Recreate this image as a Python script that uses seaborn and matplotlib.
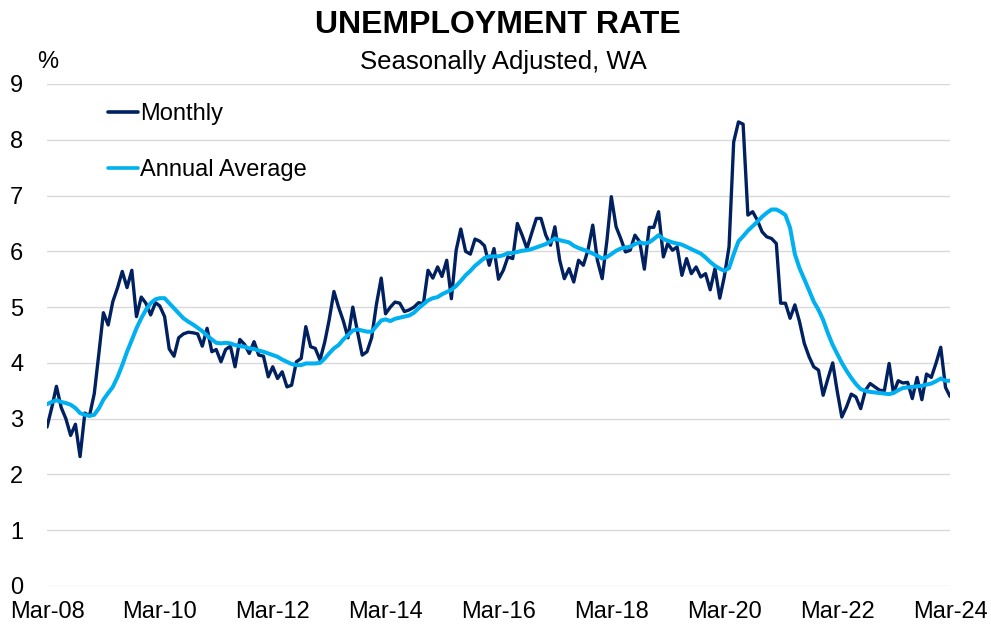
import numpy as np
import pandas as pd
import matplotlib
matplotlib.use("Agg")
import matplotlib.pyplot as plt
import matplotlib.dates as mdates
from matplotlib.lines import Line2D
import seaborn as sns

# ---- data ----
start_month = "2008-03-01"

monthly = [
    2.85, 3.20, 3.58, 3.20, 3.00, 2.70, 2.90, 2.32, 3.10, 3.05, 3.45, 4.20,
    4.90, 4.68, 5.10, 5.35, 5.64, 5.35, 5.66, 4.83, 5.18, 5.07, 4.86, 5.08,
    5.02, 4.83, 4.25, 4.12, 4.45, 4.52, 4.55, 4.54, 4.52, 4.30, 4.62, 4.20,
    4.24, 4.02, 4.24, 4.30, 3.93, 4.42, 4.33, 4.17, 4.38, 4.14, 4.12, 3.75,
    3.93, 3.72, 3.84, 3.57, 3.60, 4.02, 4.08, 4.65, 4.29, 4.26, 4.05, 4.38,
    4.77, 5.28, 5.00, 4.75, 4.45, 5.00, 4.55, 4.14, 4.20, 4.45, 5.05, 5.52,
    4.88, 5.00, 5.09, 5.07, 4.92, 4.95, 5.00, 5.08, 5.06, 5.66, 5.52, 5.72,
    5.55, 5.84, 5.15, 6.02, 6.40, 6.00, 5.95, 6.22, 6.18, 6.10, 5.75, 6.05,
    5.50, 5.66, 5.90, 5.87, 6.50, 6.29, 6.05, 6.32, 6.59, 6.59, 6.29, 6.11,
    6.44, 5.84, 5.51, 5.69, 5.45, 5.84, 5.75, 6.02, 6.47, 5.84, 5.51, 6.20,
    6.98, 6.44, 6.23, 5.99, 6.02, 6.29, 6.17, 5.68, 6.43, 6.43, 6.71, 5.90,
    6.14, 6.02, 6.08, 5.57, 5.87, 5.60, 5.72, 5.54, 5.60, 5.31, 5.69, 5.16,
    5.54, 6.08, 7.96, 8.32, 8.28, 6.65, 6.71, 6.56, 6.35, 6.26, 6.23, 6.14,
    5.07, 5.07, 4.80, 5.04, 4.74, 4.35, 4.11, 3.93, 3.87, 3.42, 3.72, 4.00,
    3.51, 3.03, 3.21, 3.44, 3.39, 3.18, 3.51, 3.63, 3.57, 3.51, 3.50, 3.99,
    3.46, 3.68, 3.64, 3.65, 3.36, 3.74, 3.34, 3.80, 3.74, 3.99, 4.28, 3.56,
    3.40,
]

annual_average = [
    3.26, 3.30, 3.33, 3.30, 3.28, 3.25, 3.19, 3.10, 3.07, 3.05, 3.07, 3.19,
    3.34, 3.46, 3.57, 3.75, 3.96, 4.20, 4.41, 4.62, 4.80, 4.95, 5.07, 5.14,
    5.16, 5.16, 5.07, 4.98, 4.89, 4.80, 4.74, 4.69, 4.63, 4.57, 4.49, 4.42,
    4.36, 4.35, 4.36, 4.35, 4.32, 4.30, 4.29, 4.26, 4.25, 4.22, 4.20, 4.17,
    4.14, 4.11, 4.06, 4.02, 3.98, 3.96, 3.96, 3.99, 3.99, 3.99, 4.00, 4.08,
    4.17, 4.26, 4.32, 4.42, 4.50, 4.58, 4.60, 4.58, 4.56, 4.56, 4.66, 4.76,
    4.78, 4.75, 4.79, 4.81, 4.83, 4.85, 4.90, 4.98, 5.05, 5.12, 5.16, 5.18,
    5.23, 5.27, 5.31, 5.38, 5.47, 5.57, 5.65, 5.74, 5.81, 5.88, 5.91, 5.91,
    5.91, 5.93, 5.97, 5.97, 5.99, 6.01, 6.02, 6.04, 6.07, 6.10, 6.13, 6.18,
    6.23, 6.20, 6.18, 6.16, 6.10, 6.06, 6.03, 6.00, 5.96, 5.92, 5.87, 5.90,
    5.95, 6.01, 6.05, 6.07, 6.08, 6.13, 6.16, 6.14, 6.16, 6.22, 6.29, 6.22,
    6.19, 6.16, 6.14, 6.12, 6.08, 6.04, 6.00, 5.96, 5.89, 5.81, 5.74, 5.69,
    5.65, 5.70, 5.95, 6.18, 6.27, 6.37, 6.45, 6.53, 6.62, 6.69, 6.75, 6.75,
    6.71, 6.65, 6.42, 5.95, 5.70, 5.50, 5.30, 5.10, 4.95, 4.77, 4.53, 4.32,
    4.17, 4.00, 3.86, 3.73, 3.62, 3.53, 3.50, 3.48, 3.47, 3.46, 3.45, 3.44,
    3.46, 3.51, 3.55, 3.56, 3.57, 3.58, 3.59, 3.61, 3.63, 3.67, 3.72, 3.68,
    3.68,
]

series_names = ["Monthly", "Annual Average"]
series_colors = ["#002060", "#00B0F0"]
y_ticks = [0, 1, 2, 3, 4, 5, 6, 7, 8, 9]
title = "UNEMPLOYMENT RATE"
subtitle = "Seasonally Adjusted, WA"
unit_label = "%"

# ---- build table ----
dates = pd.date_range(start_month, periods=len(monthly), freq="MS")
df = pd.concat([
    pd.DataFrame({"date": dates, "value": monthly, "series": series_names[0]}),
    pd.DataFrame({"date": dates, "value": annual_average, "series": series_names[1]}),
])

sns.set_theme(style="white")
plt.rcParams["font.family"] = ["Liberation Sans", "DejaVu Sans"]

fig = plt.figure(figsize=(9.91, 6.26), dpi=100)
ax = fig.add_axes([47 / 991, 40 / 626, 903 / 991, 502 / 626])

palette = dict(zip(series_names, series_colors))
sns.lineplot(data=df, x="date", y="value", hue="series", palette=palette,
             hue_order=series_names, ax=ax, legend=False)
lines = ax.get_lines()
lines[0].set_linewidth(2.4)
lines[1].set_linewidth(2.9)
lines[0].set_zorder(3)
lines[1].set_zorder(4)

ax.set_xlim(dates[0], dates[-1])
ax.set_ylim(0, 9)
ax.set_yticks(y_ticks)
ax.yaxis.grid(True, color="#D9D9D9", linewidth=1.0)
ax.xaxis.grid(False)
ax.set_axisbelow(True)
for s in ax.spines.values():
    s.set_visible(False)

tick_dates = pd.date_range(start_month, dates[-1], freq="24MS")
ax.set_xticks(tick_dates)
ax.xaxis.set_major_formatter(mdates.DateFormatter("%b-%y"))
ax.tick_params(axis="both", length=0, labelsize=17, colors="black")
ax.tick_params(axis="y", pad=17)
ax.tick_params(axis="x", pad=11)
ax.set_xlabel("")
ax.set_ylabel("")

fig.text(0.5025, 1 - 25 / 626, title, ha="center", va="center",
         fontsize=23, fontweight="bold", color="black")
fig.text(0.5075, 1 - 62 / 626, subtitle, ha="center", va="center",
         fontsize=18.5, color="black")
fig.text(48 / 991, 1 - 62 / 626, unit_label, ha="center", va="center",
         fontsize=17, color="black")

handles = [Line2D([0], [0], color=c, lw=2.6) for c in series_colors]
leg = ax.legend(handles, series_names, loc="upper left",
                bbox_to_anchor=(61 / 903, 1 - 19 / 502), frameon=False,
                fontsize=17, handlelength=1.25, handletextpad=0.1,
                labelspacing=1.45, borderpad=0, borderaxespad=0,
                labelcolor="black")

fig.savefig("out.png", dpi=100)
